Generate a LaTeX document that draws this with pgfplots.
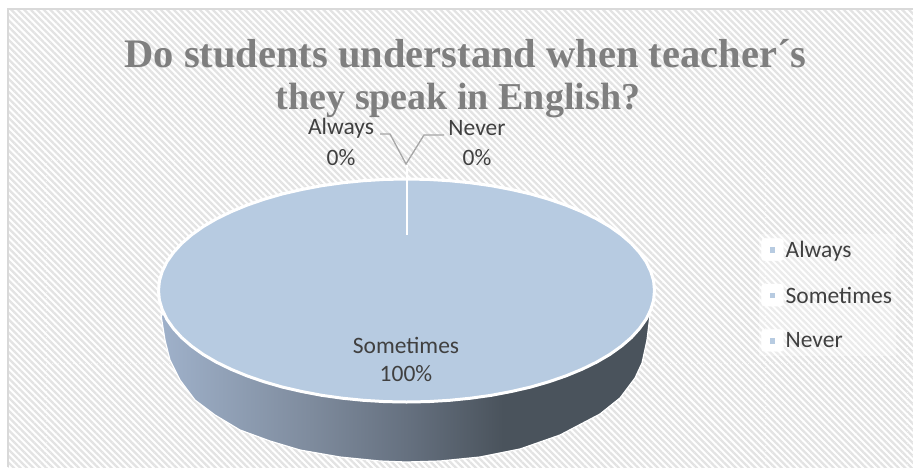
\documentclass[border=0pt]{standalone}
\usepackage{fontspec}
\setmainfont{Carlito}
\newfontfamily\titlefont{Liberation Serif}
\usepackage{pgfplots}
\pgfplotsset{compat=1.18}
\usetikzlibrary{patterns.meta}
\definecolor{tt}{HTML}{7F7F7F}
\definecolor{lab}{HTML}{404040}
\definecolor{pieblue}{HTML}{B7CBE1}
\definecolor{stripe}{HTML}{E3E3E3}
\definecolor{frame}{HTML}{D9D9D9}
\definecolor{sideA}{HTML}{9FB1CA}
\definecolor{sideB}{HTML}{7F8C9E}
\definecolor{sideM}{HTML}{667180}
\definecolor{sideC}{HTML}{4A535C}
\pgfdeclarehorizontalshading{sideshade}{100bp}{
  color(0bp)=(sideA);
  color(25bp)=(sideA);
  color(40bp)=(sideB);
  color(50bp)=(sideM);
  color(60bp)=(sideC);
  color(100bp)=(sideC)}
\begin{document}
\begin{tikzpicture}
\begin{axis}[
  width=913pt,height=467pt,scale only axis,
  xmin=0,xmax=913,ymin=0,ymax=467,y dir=reverse,
  hide axis,clip=true,
  legend cell align=left,
  legend style={at={(rel axis cs:0.8314,0.238)},anchor=south west,draw=none,
    fill=white,fill opacity=0.3,text opacity=1,
    font=\fontsize{23.5}{23.5}\selectfont,text=lab,row sep=23pt,inner xsep=2pt,inner ysep=4pt,
    nodes={inner ysep=0pt,inner xsep=2pt,text depth=0pt}},
]
% page and background
\addplot[forget plot,draw=none,fill=white] coordinates {(0,0) (913,0) (913,467) (0,467)} --cycle;
\addplot[forget plot,draw=none,pattern={Lines[angle=-45,distance=4.6pt,line width=2.3pt]},pattern color=stripe]
  coordinates {(8,9) (913,9) (913,467) (8,467)} --cycle;
\addplot[forget plot,frame,line width=1.6pt] coordinates {(8,467) (8,9) (913,9)};
% plot area and legend area outlines
\addplot[forget plot,white,opacity=0.6,line width=1pt,dotted] coordinates {(46,467) (46,160) (765,160) (765,467)};
\addplot[forget plot,white,opacity=0.6,line width=1pt,dotted] coordinates {(46,363) (907,363)};
\addplot[forget plot,white,opacity=0.6,line width=1pt,dotted] coordinates {(907,227) (907,467)};
% pie side
\addplot[forget plot,draw=white,line width=1.2pt,shading=sideshade,shading angle=0]
  coordinates {(161,315) (165,340) (170,360) (180,380) (195,400) (215,415) (240,430) (270,441) (300,450)
  (340,457) (380,461) (406,462) (440,461) (480,457) (520,449) (560,435) (600,414) (620,398) (635,378) (642,363)
  (647,340) (650,315) (406,290)} --cycle;
% pie top: Sometimes 100%
\addplot[forget plot,draw=white,line width=3pt,fill=pieblue] coordinates {
 (654.5,290.5) (653.6,280.8) (650.7,271.1) (646,261.6) (639.5,252.4) (631.3,243.4) (621.3,234.75) (609.7,226.5)
 (596.5,218.8) (581.9,211.7) (565.9,205.1) (548.8,199.2) (530.5,193.9) (511.3,189.5) (491.3,185.7) (470.7,182.8)
 (449.6,180.7) (428.1,179.4) (406.5,179) (384.9,179.4) (363.4,180.7) (342.3,182.8) (321.7,185.7) (301.7,189.5)
 (282.5,193.9) (264.2,199.2) (247.1,205.1) (231.1,211.7) (216.5,218.8) (203.3,226.5) (191.7,234.75) (181.7,243.4)
 (173.5,252.4) (167,261.6) (162.3,271.1) (159.4,280.8) (158.5,290.5) (159.4,300.2) (162.3,309.9) (167,319.4)
 (173.5,328.6) (181.7,337.6) (191.7,346.25) (203.3,354.5) (216.5,362.2) (231.1,369.3) (247.1,375.9) (264.2,381.8)
 (282.5,387.1) (301.7,391.5) (321.7,395.3) (342.3,398.2) (363.4,400.3) (384.9,401.6) (406.5,402) (428.1,401.6)
 (449.6,400.3) (470.7,398.2) (491.3,395.3) (511.3,391.5) (530.5,387.1) (548.8,381.8) (565.9,375.9) (581.9,369.3)
 (596.5,362.2) (609.7,354.5) (621.3,346.25) (631.3,337.6) (639.5,328.6) (646,319.4) (650.7,309.9) (653.6,300.2)} --cycle;
% zero slices
\addplot[forget plot,white,line width=2pt] coordinates {(406.5,165) (406.5,235)};
% leader lines
\addplot[forget plot,color=black!35,line width=1.3pt] coordinates {(380,134) (390,134) (406,164) (424,135) (444,135)};
% legend
\addlegendimage{legend image code/.code={
  \fill[white,rounded corners=3pt,fill opacity=1] (-1pt,-11pt) rectangle (21pt,11pt);
  \fill[pieblue,fill opacity=1] (8pt,-2.5pt) rectangle (12pt,2pt);}}
\addlegendentry{Always}
\addlegendimage{legend image code/.code={
  \fill[white,rounded corners=3pt,fill opacity=1] (-1pt,-11pt) rectangle (21pt,11pt);
  \fill[pieblue,fill opacity=1] (8pt,-2.5pt) rectangle (12pt,2pt);}}
\addlegendentry{Sometimes}
\addlegendimage{legend image code/.code={
  \fill[white,rounded corners=3pt,fill opacity=1] (-1pt,-11pt) rectangle (21pt,11pt);
  \fill[pieblue,fill opacity=1] (8pt,-2.5pt) rectangle (12pt,2pt);}}
\addlegendentry{Never}
% title
\node[anchor=base,text=tt,font=\titlefont\bfseries\fontsize{40.5}{40.5}\selectfont] at (axis cs:465.5,67) {Do students understand when teacher´s};
\node[anchor=base,text=tt,font=\titlefont\bfseries\fontsize{38}{38}\selectfont] at (axis cs:458,109) {they speak in English?};
% data labels
\node[text=lab,font=\fontsize{23.5}{23.5}\selectfont] at (axis cs:341,128) {Always};
\node[text=lab,font=\fontsize{23.5}{23.5}\selectfont] at (axis cs:341,158) {0\%};
\node[text=lab,font=\fontsize{23.5}{23.5}\selectfont] at (axis cs:477,128) {Never};
\node[text=lab,font=\fontsize{23.5}{23.5}\selectfont] at (axis cs:477,158) {0\%};
\node[text=lab,font=\fontsize{23.5}{23.5}\selectfont] at (axis cs:406,345) {Sometimes};
\node[text=lab,font=\fontsize{23.5}{23.5}\selectfont] at (axis cs:406,374) {100\%};
\end{axis}
\end{tikzpicture}
\end{document}
